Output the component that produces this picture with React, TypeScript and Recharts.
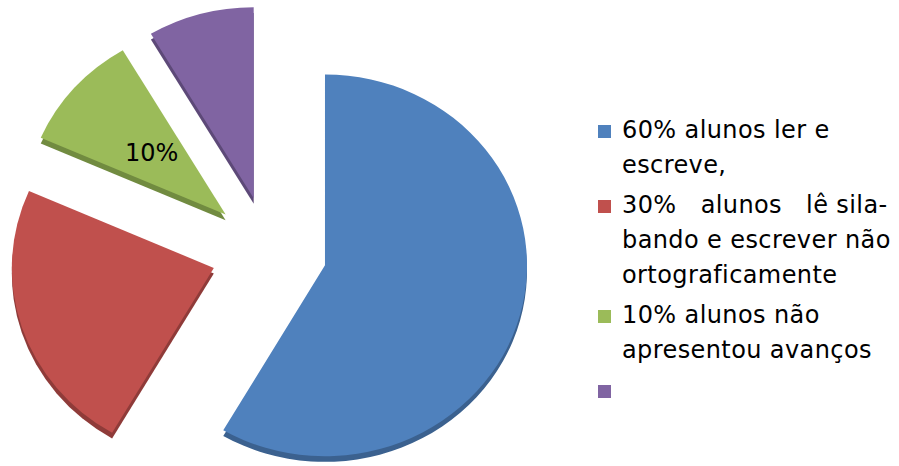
import { Cell, Legend, Pie, PieChart, Sector } from "recharts";

const categorias = [
  "60% alunos ler e\nescreve,",
  "30%   alunos   lê sila-\nbando e escrever não\nortograficamente",
  "10% alunos não\napresentou avanços",
  "",
];
const valores = [58.4, 23.2, 9.9, 8.5];
const rotulos = ["", "", "10%", ""];
const cores = ["#4F81BD", "#C0504D", "#9BBB59", "#8064A2"];
const coresLaterais = ["#3B618F", "#8F3B39", "#718B40", "#5D4978"];

const dados = categorias.map((nome, i) => ({ nome, valor: valores[i], rotulo: rotulos[i] }));

const RAD = Math.PI / 180;
const EXPLODE = 58;
const TILT = 0.945;
const DEPTH = 6;
const FONTE = "'DejaVu Sans', sans-serif";

function Fatia(props: any) {
  const { cx, cy, innerRadius, outerRadius, startAngle, endAngle, midAngle, fill, index } = props;
  const dx = EXPLODE * Math.cos(-midAngle * RAD);
  const dy = EXPLODE * Math.sin(-midAngle * RAD);
  return (
    <g transform={`translate(0 ${cy}) scale(1 ${TILT}) translate(0 ${-cy})`}>
      <Sector
        cx={cx + dx}
        cy={cy + dy + DEPTH}
        innerRadius={innerRadius}
        outerRadius={outerRadius}
        startAngle={startAngle}
        endAngle={endAngle}
        fill={coresLaterais[index]}
      />
      <Sector
        cx={cx + dx}
        cy={cy + dy}
        innerRadius={innerRadius}
        outerRadius={outerRadius}
        startAngle={startAngle}
        endAngle={endAngle}
        fill={fill}
      />
    </g>
  );
}

function Rotulo(props: any) {
  const { cx, cy, outerRadius, midAngle, payload } = props;
  const texto = payload?.rotulo ?? "";
  if (!texto) return null;
  const r = EXPLODE + outerRadius * 0.49;
  const x = cx + r * Math.cos(-midAngle * RAD);
  const y = cy + r * Math.sin(-midAngle * RAD) * TILT;
  return (
    <text x={x} y={y} fill="#000" fontSize={24} fontFamily={FONTE} textAnchor="middle" dominantBaseline="central">
      {texto}
    </text>
  );
}

function Legenda({ payload }: any) {
  const itens = [...(payload ?? [])].sort(
    (a: any, b: any) => categorias.indexOf(a.value) - categorias.indexOf(b.value)
  );
  return (
    <div style={{ fontFamily: FONTE, fontSize: 24, lineHeight: "35px", color: "#000", letterSpacing: 0.4 }}>
      {itens.map((item: any, i: number) => (
        <div key={i} style={{ display: "flex", alignItems: "flex-start", marginBottom: 5 }}>
          <span
            style={{
              display: "inline-block",
              width: 13,
              height: 13,
              marginTop: 12,
              marginRight: 11,
              background: item.color,
              flex: "none",
            }}
          />
          <span style={{ whiteSpace: "pre", minHeight: 35 }}>{item.value}</span>
        </div>
      ))}
    </div>
  );
}

export default function App() {
  return (
    <div style={{ position: "absolute", left: 0, top: 0, width: 899, height: 466, background: "#fff" }}>
      <PieChart width={899} height={466} margin={{ top: 0, right: 0, bottom: 0, left: 0 }}>
        <Pie
          data={dados}
          dataKey="valor"
          nameKey="nome"
          cx={269}
          cy={251}
          outerRadius={202}
          startAngle={90}
          endAngle={-270}
          stroke="none"
          shape={Fatia}
          label={Rotulo}
          labelLine={false}
          isAnimationActive={false}
        >
          {dados.map((_, i) => (
            <Cell key={i} fill={cores[i]} />
          ))}
        </Pie>
        <Legend
          layout="vertical"
          verticalAlign="top"
          align="right"
          wrapperStyle={{ left: 598, top: 113, width: 300 }}
          content={Legenda}
        />
      </PieChart>
    </div>
  );
}
